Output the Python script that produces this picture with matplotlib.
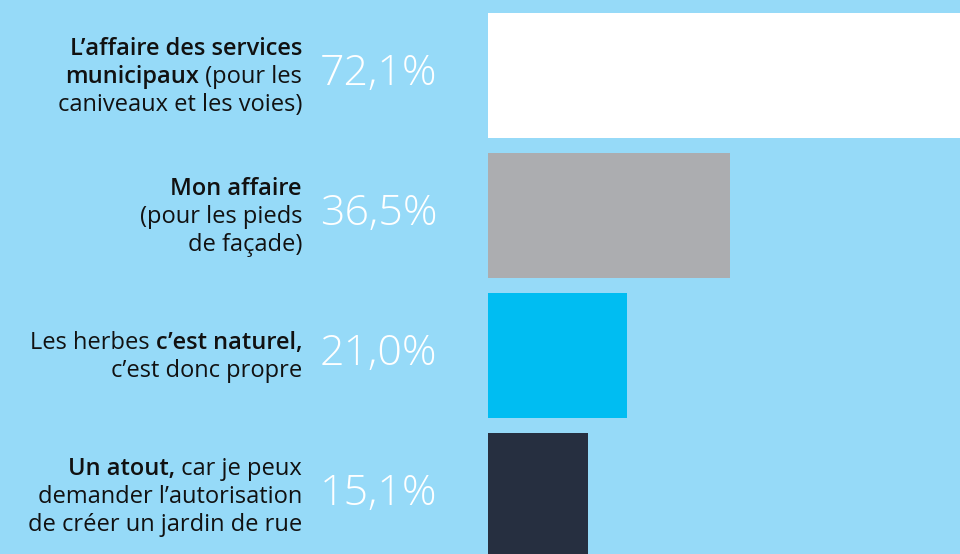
import matplotlib
matplotlib.use("Agg")
import matplotlib.pyplot as plt
import matplotlib.transforms as mtransforms
from matplotlib.offsetbox import TextArea, HPacker, VPacker, AnnotationBbox

# data
values = [72.1, 36.5, 21.0, 15.1]
value_labels = ["72,1%", "36,5%", "21,0%", "15,1%"]
bar_colors = ["#FFFFFF", "#ACADB0", "#00BDF2", "#262F40"]
# each label: list of lines, each line a list of (text, bold)
labels = [
    [[("L\u2019affaire des services", True)],
     [("municipaux", True), (" (pour les", False)],
     [("caniveaux et les voies)", False)]],
    [[("Mon affaire", True)],
     [("(pour les pieds", False)],
     [("de fa\u00e7ade)", False)]],
    [[("Les herbes ", False), ("c\u2019est naturel,", True)],
     [("c\u2019est donc propre", False)]],
    [[("Un atout,", True), (" car je peux", False)],
     [("demander l\u2019autorisation", False)],
     [("de cr\u00e9er un jardin de rue", False)]],
]

bg = "#96DAF8"
font = "Open Sans"

fig = plt.figure(figsize=(9.6, 5.54), dpi=100)
fig.patch.set_facecolor(bg)
ax = fig.add_axes([488 / 960, 0, 472 / 960, 1])
ax.set_facecolor(bg)

ypos = list(range(len(values)))
ax.barh(ypos, values, height=125 / 140, color=bar_colors, left=0)
ax.set_xlim(0, 472 / 6.63)
ax.set_ylim((554 - 75.5) / 140, -75.5 / 140)
ax.axis("off")

trans = mtransforms.blended_transform_factory(fig.transFigure, ax.transData)

for i, (lines, vl) in enumerate(zip(labels, value_labels)):
    rows = []
    for line in lines:
        parts = [TextArea(t, textprops=dict(fontsize=17, family=font,
                                            fontweight="semibold" if b else "normal",
                                            color="#111111"))
                 for t, b in line]
        rows.append(HPacker(children=parts, pad=0, sep=0, align="baseline"))
    box = VPacker(children=rows, pad=0, sep=2.8, align="right")
    ab = AnnotationBbox(box, (302 / 960, i + 0.01), xycoords=trans,
                        box_alignment=(1, 0.5), frameon=False, pad=0,
                        annotation_clip=False)
    ax.add_artist(ab)
    ax.text(320 / 960, i - 0.015, vl, transform=trans, ha="left", va="center",
            fontsize=31, family=font, fontweight="light", color="white")

fig.savefig("out.png", dpi=100, facecolor=bg)
